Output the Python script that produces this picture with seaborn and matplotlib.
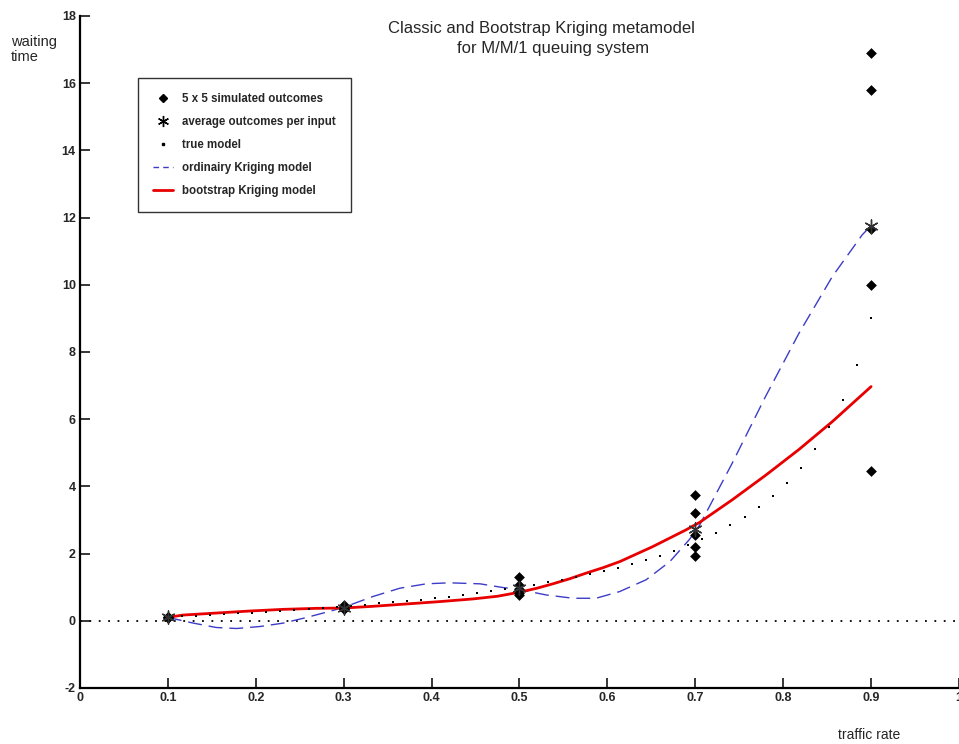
import numpy as np
import pandas as pd
import seaborn as sns
import matplotlib.pyplot as plt
from matplotlib.lines import Line2D

# simulated outcomes (5 replications per input)
sim_x = [0.1] * 5 + [0.3] * 5 + [0.5] * 5 + [0.7] * 5 + [0.9] * 5
sim_y = [0.12, 0.11, 0.10, 0.10, 0.09,
         0.46, 0.42, 0.38, 0.36, 0.34,
         1.30, 1.07, 0.94, 0.82, 0.78,
         3.75, 3.22, 2.54, 2.19, 1.94,
         16.91, 15.80, 11.65, 10.00, 4.45]

# average outcome per input
avg_x = [0.1, 0.3, 0.5, 0.7, 0.9]
avg_y = [0.10, 0.39, 0.98, 2.73, 11.76]

# true model (dotted)
true_x = [0.100, 0.116, 0.132, 0.148, 0.164, 0.180, 0.196, 0.212, 0.228, 0.244,
          0.260, 0.276, 0.292, 0.308, 0.324, 0.340, 0.356, 0.372, 0.388, 0.404,
          0.420, 0.436, 0.452, 0.468, 0.484, 0.500, 0.516, 0.532, 0.548, 0.564,
          0.580, 0.596, 0.612, 0.628, 0.644, 0.660, 0.676, 0.692, 0.708, 0.724,
          0.740, 0.756, 0.772, 0.788, 0.804, 0.820, 0.836, 0.852, 0.868, 0.884,
          0.900]
true_y = [0.11, 0.13, 0.15, 0.17, 0.20, 0.22, 0.24, 0.27, 0.30, 0.32,
          0.35, 0.38, 0.41, 0.45, 0.48, 0.52, 0.55, 0.59, 0.63, 0.68,
          0.72, 0.77, 0.82, 0.88, 0.94, 1.00, 1.07, 1.14, 1.21, 1.29,
          1.38, 1.48, 1.58, 1.69, 1.81, 1.94, 2.09, 2.25, 2.42, 2.62,
          2.85, 3.10, 3.39, 3.72, 4.10, 4.56, 5.10, 5.76, 6.58, 7.62,
          9.00]

# ordinary Kriging model
ok_x = [0.100, 0.129, 0.155, 0.178, 0.205, 0.231, 0.258, 0.288, 0.300,
        0.333, 0.364, 0.394, 0.420, 0.455, 0.481, 0.500, 0.530, 0.561,
        0.587, 0.614, 0.644, 0.671, 0.693, 0.705, 0.742, 0.780, 0.818,
        0.856, 0.890, 0.900]
ok_y = [0.10, -0.07, -0.20, -0.23, -0.17, -0.07, 0.10, 0.31, 0.40,
        0.72, 0.97, 1.10, 1.13, 1.10, 0.99, 0.93, 0.77, 0.67,
        0.67, 0.87, 1.22, 1.76, 2.41, 2.85, 4.69, 6.68, 8.56,
        10.25, 11.49, 11.76]

# bootstrap Kriging model
bk_x = [0.100, 0.117, 0.155, 0.193, 0.231, 0.269, 0.300, 0.333, 0.371,
        0.409, 0.447, 0.475, 0.500, 0.520, 0.538, 0.557, 0.576, 0.595,
        0.614, 0.651, 0.689, 0.705, 0.742, 0.780, 0.818, 0.856, 0.900]
bk_y = [0.10, 0.17, 0.23, 0.29, 0.34, 0.37, 0.38, 0.43, 0.50,
        0.57, 0.65, 0.73, 0.85, 0.97, 1.10, 1.25, 1.42, 1.58,
        1.76, 2.20, 2.70, 2.93, 3.60, 4.33, 5.10, 5.93, 6.97]

sns.set_style("white")
plt.rcParams['font.family'] = ['Liberation Sans', 'DejaVu Sans']

fig = plt.figure(figsize=(9.59, 7.44), dpi=100)
ax = fig.add_axes([0.0834, 0.0753, 0.9166, 0.9032])

# zero reference line
ax.axhline(0, color='black', lw=1.3, linestyle=(0, (1, 4.2)), zorder=1)

sns.lineplot(x=ok_x, y=ok_y, ax=ax, color='#3c3cc8', lw=1.0,
             linestyle=(0, (10, 5)), sort=False, zorder=3)
sns.lineplot(x=bk_x, y=bk_y, ax=ax, color='#e80000', lw=2.0, sort=False, zorder=3)
sns.scatterplot(x=true_x, y=true_y, ax=ax, marker='s', s=4.5, color='black',
                linewidth=0, zorder=4)
sns.scatterplot(x=sim_x, y=sim_y, ax=ax, marker='D', s=30, color='black',
                linewidth=0, zorder=5)
sns.scatterplot(x=avg_x, y=avg_y, ax=ax, marker=(6, 2, 0), s=90, color='#333333',
                linewidth=1.0, zorder=6)

ax.set_xlim(0, 1)
ax.set_ylim(-2, 18)
ax.set_xticks([0, 0.1, 0.2, 0.3, 0.4, 0.5, 0.6, 0.7, 0.8, 0.9, 1])
ax.set_xticklabels(['0', '0.1', '0.2', '0.3', '0.4', '0.5', '0.6', '0.7', '0.8', '0.9', '1'])
ax.set_yticks(list(range(-2, 19, 2)))
ax.set_yticklabels([str(v) for v in range(-2, 19, 2)])
ax.tick_params(direction='in', length=7, width=1.3, labelsize=9, pad=3,
               left=True, bottom=True)
for lab in ax.get_xticklabels() + ax.get_yticklabels():
    lab.set_fontweight('bold')
for s in ['top', 'right']:
    ax.spines[s].set_visible(False)
for s in ['left', 'bottom']:
    ax.spines[s].set_color('black')
    ax.spines[s].set_linewidth(1.6)

handles = [
    Line2D([], [], marker='D', color='black', linestyle='none', markersize=4.5),
    Line2D([], [], marker=(6, 2, 0), color='black', linestyle='none', markersize=8,
           markeredgewidth=1.0),
    Line2D([], [], marker='s', color='black', linestyle='none', markersize=2),
    Line2D([], [], color='#3c3cc8', lw=1.0, linestyle=(0, (4, 3))),
    Line2D([], [], color='#e80000', lw=2.0),
]
labels = ['5 x 5 simulated outcomes', 'average outcomes per input', 'true model',
          'ordinairy Kriging model', 'bootstrap Kriging model']
leg = ax.legend(handles, labels, loc='upper left', bbox_to_anchor=(0.066, 0.908),
                borderaxespad=0, frameon=True, fancybox=False, edgecolor='#333333',
                framealpha=1, handlelength=1.7, handletextpad=0.8, labelspacing=0.95,
                borderpad=1.3, prop={'weight': 'bold', 'size': 8.3})
leg.get_frame().set_linewidth(1.0)

fig.text(0.565, 0.962, 'Classic and Bootstrap Kriging metamodel', ha='center',
         va='center', fontsize=12)
fig.text(0.577, 0.935, 'for M/M/1 queuing system', ha='center', va='center',
         fontsize=12)
fig.text(0.011, 0.9335, 'waiting\ntime', ha='left', va='center', fontsize=10.5,
         linespacing=1.1)
fig.text(0.906, 0.012, 'traffic rate', ha='center', va='center', fontsize=10)

fig.savefig('out.png', dpi=100)
